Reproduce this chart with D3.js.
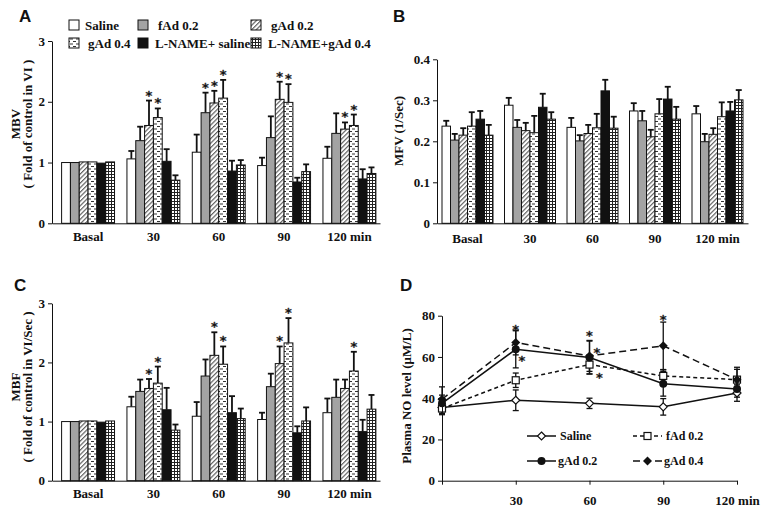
<!DOCTYPE html>
<html><head><meta charset="utf-8">
<script src="https://cdn.jsdelivr.net/npm/d3@7"></script>
<style>
body{margin:0;background:#fff}
svg{display:block}
text{font-family:"Liberation Serif","Times New Roman",serif;font-weight:bold;fill:#111}
</style>
</head><body>
<svg id="c" width="761" height="519"></svg>
<script>
// ---------------- DATA ----------------
const groups = ["Basal", "30", "60", "90", "120  min"];
const seriesNames = ["Saline", "fAd 0.2", "gAd 0.2", "gAd 0.4", "L-NAME+ saline", "L-NAME+gAd 0.4"];

// Panel A: MBV (fold of control)
const mbvMean = [
  [1.00, 1.00, 1.01, 1.01, 0.99, 1.01],
  [1.06, 1.36, 1.61, 1.74, 1.02, 0.71],
  [1.17, 1.82, 1.98, 2.06, 0.86, 0.96],
  [0.95, 1.41, 2.04, 1.99, 0.68, 0.85],
  [1.07, 1.48, 1.55, 1.61, 0.73, 0.82]
];
const mbvErr = [
  [0, 0, 0, 0, 0, 0],
  [0.13, 0.23, 0.41, 0.15, 0.20, 0.08],
  [0.29, 0.33, 0.20, 0.30, 0.17, 0.08],
  [0.13, 0.35, 0.29, 0.30, 0.07, 0.12],
  [0.19, 0.33, 0.11, 0.18, 0.16, 0.10]
];
const mbvSig = [
  [0, 0, 0, 0, 0, 0],
  [0, 0, 1, 1, 0, 0],
  [0, 1, 1, 1, 0, 0],
  [0, 0, 1, 1, 0, 0],
  [0, 0, 1, 1, 0, 0]
];

// Panel B: MFV (1/Sec)
const mfvMean = [
  [0.237, 0.203, 0.215, 0.237, 0.254, 0.215],
  [0.288, 0.234, 0.226, 0.221, 0.283, 0.254],
  [0.234, 0.201, 0.219, 0.233, 0.323, 0.232],
  [0.274, 0.250, 0.211, 0.267, 0.303, 0.254],
  [0.267, 0.199, 0.217, 0.260, 0.274, 0.301]
];
const mfvErr = [
  [0.013, 0.015, 0.017, 0.034, 0.020, 0.025],
  [0.018, 0.018, 0.019, 0.041, 0.033, 0.017],
  [0.023, 0.014, 0.021, 0.034, 0.027, 0.028],
  [0.019, 0.024, 0.017, 0.036, 0.030, 0.030],
  [0.019, 0.019, 0.015, 0.035, 0.022, 0.024]
];
const mfvSig = [
  [0,0,0,0,0,0],[0,0,0,0,0,0],[0,0,0,0,0,0],[0,0,0,0,0,0],[0,0,0,0,0,0]
];

// Panel C: MBF (fold of control)
const mbfMean = [
  [1.00, 1.00, 1.01, 1.01, 0.99, 1.01],
  [1.25, 1.51, 1.56, 1.65, 1.20, 0.855],
  [1.09, 1.77, 2.12, 1.97, 1.15, 1.05],
  [1.035, 1.59, 1.98, 2.33, 0.81, 1.01],
  [1.15, 1.41, 1.56, 1.855, 0.83, 1.21]
];
const mbfErr = [
  [0, 0, 0, 0, 0, 0],
  [0.17, 0.20, 0.16, 0.28, 0.37, 0.095],
  [0.24, 0.28, 0.39, 0.30, 0.28, 0.17],
  [0.115, 0.22, 0.29, 0.42, 0.11, 0.23],
  [0.24, 0.30, 0.15, 0.325, 0.20, 0.24]
];
const mbfSig = [
  [0, 0, 0, 0, 0, 0],
  [0, 0, 1, 1, 0, 0],
  [0, 0, 1, 1, 0, 0],
  [0, 0, 1, 1, 0, 0],
  [0, 0, 0, 1, 0, 0]
];

// Panel D: Plasma NO level (uM/L)
const noTimes = [0, 30, 60, 90, 120];
const noSeries = ["Saline", "fAd 0.2", "gAd 0.2", "gAd 0.4"];
const noMean = [
  [35.5, 39.0, 37.5, 35.8, 42.5],
  [35.0, 48.7, 56.3, 50.8, 49.0],
  [37.5, 63.7, 59.7, 47.0, 44.5],
  [39.5, 67.0, 60.5, 65.4, 49.0]
];
const noErr = [
  [3.0, 5.0, 2.5, 4.0, 4.0],
  [3.0, 3.5, 4.5, 3.0, 5.0],
  [4.0, 9.0, 8.0, 6.0, 4.0],
  [6.0, 6.0, 7.5, 11.5, 6.0]
];
// significance stars for panel D (time, value at star centre)
const noStarT = [30, 32.5, 60, 63, 64, 90];
const noStarV = [75.4, 60.4, 72.5, 64.2, 52.0, 80.2];

const barTicksFold = [0, 1, 2, 3];
const barTicksMFV = [0, 0.1, 0.2, 0.3, 0.4];
const noTicksY = [0, 20, 40, 60, 80];
const noTicksX = [0, 30, 60, 90, 120];

// ---------------- DRAWING ----------------
const svg = d3.select("#c");
svg.append("rect").attr("width", 761).attr("height", 519).attr("fill", "#fff");

const defs = svg.append("defs");
// diagonal hatch
const ph = defs.append("pattern").attr("id", "hatch").attr("patternUnits", "userSpaceOnUse")
  .attr("width", 3.2).attr("height", 3.2).attr("patternTransform", "rotate(45)");
ph.append("rect").attr("width", 3.2).attr("height", 3.2).attr("fill", "#fff");
ph.append("line").attr("x1", 0.6).attr("y1", 0).attr("x2", 0.6).attr("y2", 3.2).attr("stroke", "#555").attr("stroke-width", 1.1);
// dashes
const pd = defs.append("pattern").attr("id", "dash").attr("patternUnits", "userSpaceOnUse")
  .attr("width", 6).attr("height", 5);
pd.append("rect").attr("width", 6).attr("height", 5).attr("fill", "#fff");
pd.append("rect").attr("x", 1).attr("y", 1).attr("width", 3).attr("height", 1).attr("fill", "#333");
pd.append("rect").attr("x", 4).attr("y", 3.5).attr("width", 3).attr("height", 1).attr("fill", "#333");
pd.append("rect").attr("x", -2).attr("y", 3.5).attr("width", 3).attr("height", 1).attr("fill", "#333");
// grid
const pg = defs.append("pattern").attr("id", "grid").attr("patternUnits", "userSpaceOnUse")
  .attr("width", 3).attr("height", 3);
pg.append("rect").attr("width", 3).attr("height", 3).attr("fill", "#fff");
pg.append("rect").attr("width", 3).attr("height", 1).attr("fill", "#222");
pg.append("rect").attr("width", 1).attr("height", 3).attr("fill", "#222");

const fills = ["#fff", "#a3a3a3", "url(#hatch)", "url(#dash)", "#111", "url(#grid)"];

function styleAxis(g) {
  g.selectAll("path,line").attr("stroke", "#111").attr("stroke-width", 1);
  g.selectAll("text").style("font-size", "13px").attr("fill", "#111");
}

function star(g, x, y) {
  g.append("text").attr("x", x).attr("y", y).attr("text-anchor", "middle")
    .style("font-family", "'DejaVu Sans',sans-serif").style("font-size", "13px")
    .style("font-weight", "bold").style("opacity", 0.99)
    .attr("fill", "#222").attr("stroke", "#222").attr("stroke-width", 0.3).text("*");
}

function barPanel(cfg) {
  const x = d3.scaleBand(groups, cfg.xr).paddingInner(cfg.pin).paddingOuter(cfg.pout).align(cfg.align);
  const xs = d3.scaleBand(d3.range(seriesNames.length), [0, x.bandwidth()]);
  const y = d3.scaleLinear([0, cfg.yMax], cfg.yr);
  const g = svg.append("g");
  const w = xs.bandwidth();
  groups.forEach((gn, gi) => {
    seriesNames.forEach((sn, si) => {
      const v = cfg.mean[gi][si], e = cfg.err[gi][si];
      const bx = x(gn) + xs(si), cx = bx + w / 2;
      if (e > 0) {
        g.append("line").attr("x1", cx).attr("x2", cx).attr("y1", y(v)).attr("y2", y(v + e))
          .attr("stroke", "#111").attr("stroke-width", 1.8);
        g.append("line").attr("x1", cx - 3).attr("x2", cx + 3).attr("y1", y(v + e)).attr("y2", y(v + e))
          .attr("stroke", "#111").attr("stroke-width", 1.8);
      }
      g.append("rect").attr("x", bx).attr("y", y(v)).attr("width", w).attr("height", y(0) - y(v))
        .attr("fill", fills[si]).attr("stroke", "#111").attr("stroke-width", 1);
      if (cfg.sig[gi][si]) star(g, cx, y(v + e) - 1);
    });
  });
  const ax = g.append("g").attr("transform", `translate(0,${cfg.yr[0]})`)
    .call(d3.axisBottom(x).tickSize(0).tickSizeOuter(0).tickPadding(cfg.xpad));
  styleAxis(ax);
  const ay = g.append("g").attr("transform", `translate(${cfg.xr[0]},0)`)
    .call(d3.axisLeft(y).tickValues(cfg.yTicks).tickSize(4).tickSizeOuter(0).tickPadding(3).tickFormat(cfg.fmt));
  styleAxis(ay);
  g.append("text").attr("transform", `translate(${cfg.lblX},${cfg.lblY}) rotate(-90)`)
    .attr("text-anchor", "middle").style("font-size", "13px").text(cfg.lbl1);
  if (cfg.lbl2) {
    g.append("text").attr("transform", `translate(${cfg.lblX + 12},${cfg.lblY}) rotate(-90)`)
      .attr("text-anchor", "middle").style("font-size", "13px").text(cfg.lbl2);
  }
}

barPanel({
  mean: mbvMean, err: mbvErr, sig: mbvSig, yMax: 3, yTicks: barTicksFold, fmt: d3.format("d"),
  xr: [52, 380], yr: [223.3, 41], pin: 0.19, pout: 0.105, align: 0.7, xpad: 8,
  lblX: 20, lblY: 124, lbl1: "MBV", lbl2: "( Fold of control  in VI )"
});
barPanel({
  mean: mfvMean, err: mfvErr, sig: mfvSig, yMax: 0.4, yTicks: barTicksMFV, fmt: d => d === 0 ? "0" : d3.format(".1f")(d),
  xr: [437, 748], yr: [223.3, 59.3], pin: 0.184, pout: 0.08, align: 0.5, xpad: 10,
  lblX: 403, lblY: 131, lbl1: "MFV (1/Sec)"
});
barPanel({
  mean: mbfMean, err: mbfErr, sig: mbfSig, yMax: 3, yTicks: barTicksFold, fmt: d3.format("d"),
  xr: [52, 380], yr: [480.7, 303.3], pin: 0.19, pout: 0.105, align: 0.7, xpad: 8,
  lblX: 20, lblY: 387, lbl1: "MBF", lbl2: "( Fold of control  in VI/Sec )"
});

// Legend for bars (panel A)
const legCols = [69, 138, 251];
seriesNames.forEach((sn, i) => {
  const col = i % 3, row = Math.floor(i / 3);
  const lx = legCols[col], ly = row === 0 ? 20 : 38;
  svg.append("rect").attr("x", lx).attr("y", ly).attr("width", 10).attr("height", 10)
    .attr("fill", fills[i]).attr("stroke", "#111").attr("stroke-width", 1);
  svg.append("text").attr("x", lx + (col === 0 ? (row === 0 ? 16 : 19) : (row === 0 ? 20 : 17)))
    .attr("y", ly + 10).style("font-size", "13px").text(sn);
});

// ---------------- Panel D ----------------
(function () {
  const x = d3.scaleLinear([0, 120], [442, 737]);
  const y = d3.scaleLinear([0, 80], [480.7, 315.7]);
  const g = svg.append("g");
  const dashes = [null, "4,3", null, "7,4"];
  const line = d3.line().x((d, i) => x(noTimes[i])).y(d => y(d));
  noMean.forEach((vals, si) => {
    g.append("path").attr("d", line(vals)).attr("fill", "none").attr("stroke", "#111")
      .attr("stroke-width", 1.5).attr("stroke-dasharray", dashes[si]);
  });
  noMean.forEach((vals, si) => {
    vals.forEach((v, i) => {
      const e = noErr[si][i], cx = x(noTimes[i]);
      g.append("line").attr("x1", cx).attr("x2", cx).attr("y1", y(v - e)).attr("y2", y(v + e))
        .attr("stroke", "#111").attr("stroke-width", 1.3);
      [v - e, v + e].forEach(t => g.append("line").attr("x1", cx - 3).attr("x2", cx + 3)
        .attr("y1", y(t)).attr("y2", y(t)).attr("stroke", "#111").attr("stroke-width", 1.3));
    });
  });
  function marker(sel, si, cx, cy) {
    if (si === 0) sel.append("path").attr("d", `M${cx},${cy - 4}L${cx + 4},${cy}L${cx},${cy + 4}L${cx - 4},${cy}Z`)
      .attr("fill", "#fff").attr("stroke", "#111").attr("stroke-width", 1.2);
    else if (si === 1) sel.append("rect").attr("x", cx - 3.5).attr("y", cy - 3.5).attr("width", 7).attr("height", 7)
      .attr("fill", "#fff").attr("stroke", "#111").attr("stroke-width", 1.2);
    else if (si === 2) sel.append("circle").attr("cx", cx).attr("cy", cy).attr("r", 4).attr("fill", "#111");
    else sel.append("path").attr("d", `M${cx},${cy - 4.5}L${cx + 4.5},${cy}L${cx},${cy + 4.5}L${cx - 4.5},${cy}Z`)
      .attr("fill", "#111");
  }
  noMean.forEach((vals, si) => vals.forEach((v, i) => marker(g, si, x(noTimes[i]), y(v))));
  noStarT.forEach((t, i) => star(g, x(t), y(noStarV[i]) + 9));
  const ax = g.append("g").attr("transform", `translate(0,${y(0)})`)
    .call(d3.axisBottom(x).tickValues(noTicksX).tickSize(4).tickSizeOuter(0).tickPadding(11)
      .tickFormat(d => d === 0 ? "" : d === 120 ? "120 min" : d));
  styleAxis(ax);
  const ay = g.append("g").attr("transform", `translate(${x(0)},0)`)
    .call(d3.axisLeft(y).tickValues(noTicksY).tickSize(4).tickSizeOuter(0).tickPadding(3));
  styleAxis(ay);
  g.append("text").attr("transform", `translate(411,396) rotate(-90)`).attr("text-anchor", "middle")
    .style("font-size", "13px").text("Plasma NO level (\u03BCM/L)");
  // legend
  const lgX = [527, 633], lgY = [436, 461], txX = [[560, 666], [558, 664]];
  noSeries.forEach((sn, si) => {
    const col = si % 2, row = Math.floor(si / 2);
    const x0 = lgX[col], yy = lgY[row];
    g.append("line").attr("x1", x0).attr("x2", x0 + 29).attr("y1", yy).attr("y2", yy)
      .attr("stroke", "#111").attr("stroke-width", 1.5).attr("stroke-dasharray", dashes[si]);
    marker(g, si, x0 + 14.5, yy);
    g.append("text").attr("x", txX[row][col]).attr("y", yy + 4).style("font-size", "12px").text(sn);
  });
})();

// panel letters
[["A", 19, 22], ["B", 393, 22], ["C", 14, 291], ["D", 400, 291]].forEach(([t, lx, ly]) => {
  svg.append("text").attr("x", lx).attr("y", ly)
    .style("font-family", "'Liberation Sans',Arial,sans-serif").style("font-size", "17px").text(t);
});
</script>
</body></html>
